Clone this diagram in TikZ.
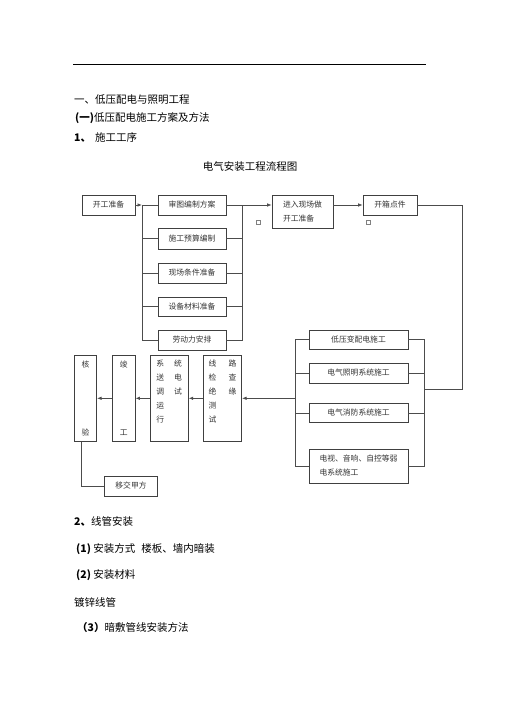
\documentclass[tikz,border=0pt]{standalone}
\usepackage{fontspec}
\setmainfont{Noto Sans CJK SC}
\usetikzlibrary{arrows.meta}
\tikzset{
  box/.style={draw=black!75,line width=0.7pt,inner sep=0pt,text=black!80,font=\fontsize{7.8}{14}\selectfont},
  lbox/.style={box,minimum width=68,minimum height=20},
  rbox/.style={box,minimum width=99,minimum height=20},
  tbox/.style={box,minimum height=86.7,align=center},
  line/.style={draw=black!70,line width=0.7pt},
  txt/.style={anchor=west,inner sep=0pt,font=\fontsize{10.5}{12}\selectfont}
}
\begin{document}
\begin{tikzpicture}[x=1pt,y=-1pt,>={Latex[length=4.5pt,width=3.5pt]}]
\useasboundingbox (0,0) rectangle (505,714);
\draw[line width=0.8pt] (73,64) -- (426,64);
\node[txt] (h1) at (74,100) {一、低压配电与照明工程};
\node[txt] (h2) at (75,118) {\textbf{(一)}低压配电施工方案及方法};
\node[txt] (h3) at (74,137) {\textbf{1、}\hspace{4pt}施工工序};
\node[txt,anchor=center] (title) at (250,167) {电气安装工程流程图};
\node[box,minimum width=53,minimum height=20] (kg) at (108.5,205) {开工准备};
\node[lbox] (sh) at (192,205) {审图编制方案};
\node[lbox,minimum height=21] (ys) at (192,238.5) {施工预算编制};
\node[lbox] (tj) at (192,273) {现场条件准备};
\node[lbox,minimum height=19] (cl) at (192,306.5) {设备材料准备};
\node[lbox] (ld) at (192,340) {劳动力安排};
\node[box,minimum width=61,minimum height=33,align=left] (jc) at (302.5,211.5) {进入现场做\\开工准备};
\node[box,minimum width=54,minimum height=20] (kx) at (390,205) {开箱点件};
\node[rbox,minimum height=19] (dy) at (358.5,339.5) {低压变配电施工};
\node[rbox] (zm) at (358.5,373) {电气照明系统施工};
\node[rbox,minimum height=19] (xf) at (358.5,413) {电气消防系统施工};
\node[rbox,minimum height=34,align=left] (rd) at (358.5,466) {电视、音响、自控等弱\\电系统施工};
\node[tbox,minimum width=22.4] (hy) at (85.5,398.3) {核\\[54pt]验};
\node[tbox,minimum width=22.7] (jg) at (123.7,398.3) {竣\\[54pt]工};
\node[tbox,minimum width=38.3] (xt) at (169.2,398.3) {\begin{tabular}{@{}l@{\hspace{10pt}}l@{}}系&统\\送&电\\调&试\\运&\\行&\\&\end{tabular}};
\node[tbox,minimum width=38.4] (xl) at (222.5,398.3) {\begin{tabular}{@{}l@{\hspace{12pt}}l@{}}线&路\\检&查\\绝&缘\\测&\\试&\\&\end{tabular}};
\node[box,minimum width=53.4,minimum height=20] (yj) at (131,486) {移交甲方};
\coordinate (b1) at (142,205);
\coordinate (b2) at (242,205);
\coordinate (c1) at (462,389);
\coordinate (b3) at (424,389);
\coordinate (b4) at (295,398.3);
\draw[line,->] (kg) -- (b1);
\draw[line] (b1) |- (ld.west);
\foreach \n in {sh,ys,tj,cl} \draw[line] (b1 |- \n.west) -- (\n.west);
\draw[line] (ld.east) -| (b2);
\foreach \n in {ys,tj,cl} \draw[line] (\n.east) -- (\n.east -| b2);
\draw[line,->] (sh.east) -- (sh.east -| jc.west);
\draw[line,->] (jc.east |- kx.west) -- (kx.west);
\draw[line] (kx.east) -| (c1) -- (b3);
\draw[line] (dy.east) -- (dy.east -| b3) -- (rd.east -| b3) -- (rd.east);
\draw[line] (dy.west) -- (dy.west -| b4) -- (rd.west -| b4) -- (rd.west);
\foreach \n in {zm,xf} \draw[line] (\n.east) -- (\n.east -| b3) (\n.west) -- (\n.west -| b4);
\draw[line,->] (b4) -- (xl);
\draw[line,->] (xl) -- (xt);
\draw[line,->] (xt) -- (jg);
\draw[line,->] (jg) -- (hy);
\draw[line] ([xshift=-4pt]hy.south) |- (yj.west);
\draw[black!50,line width=0.4pt] (256,220) rectangle ++(4,4);
\draw[black!50,line width=0.4pt] (366,220) rectangle ++(4,4);
\node[txt] (s2) at (74,522) {\textbf{2、}线管安装};
\node[txt] (s3) at (76,549) {\textbf{(1)} 安装方式\hspace{6pt}楼板、墙内暗装};
\node[txt] (s4) at (76,575) {\textbf{(2)} 安装材料};
\node[txt] (s5) at (74,602) {镀锌线管};
\node[txt] (s6) at (77,628) {\textbf{（3）}暗敷管线安装方法};
\end{tikzpicture}
\end{document}
